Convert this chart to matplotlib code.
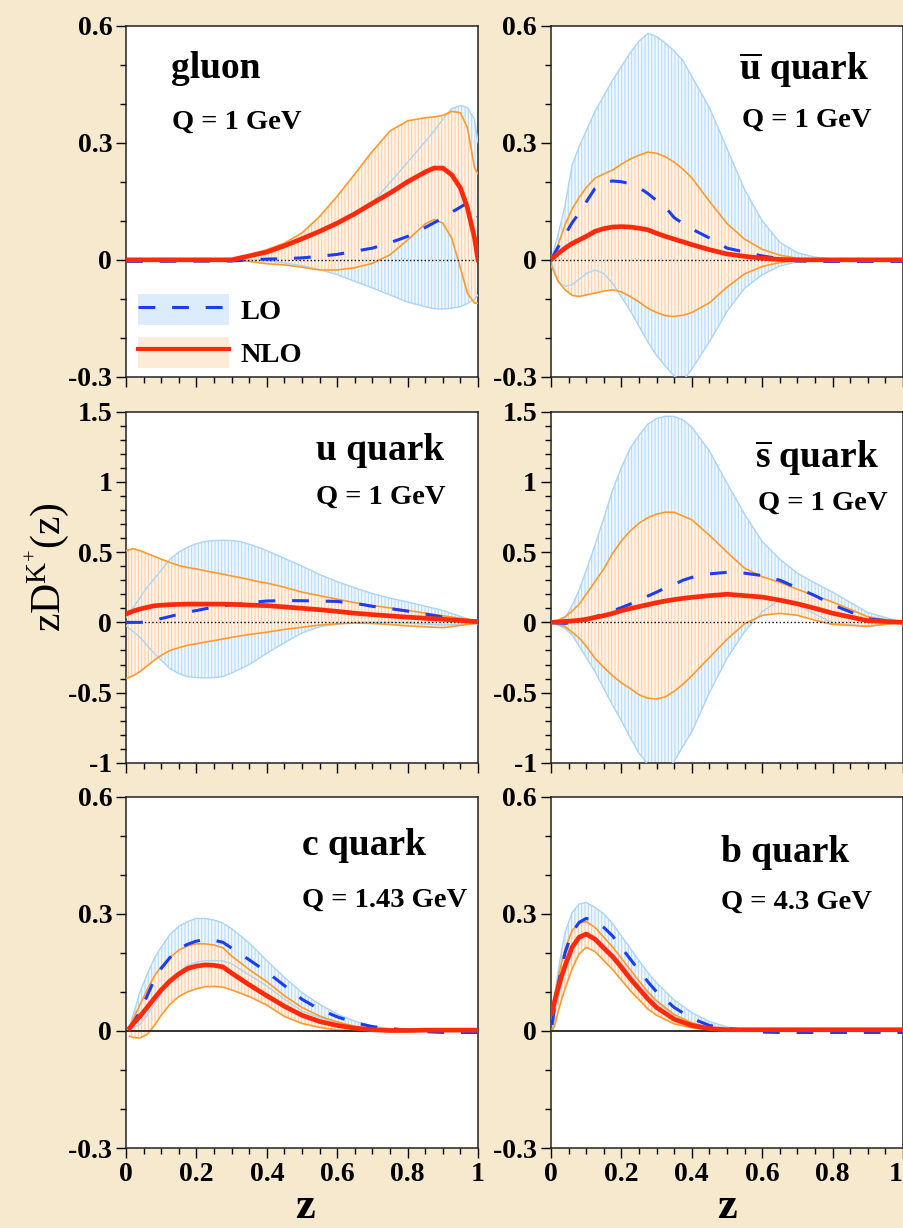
import numpy as np
import matplotlib
matplotlib.use('Agg')
import matplotlib.pyplot as plt
from matplotlib.patches import Patch
from matplotlib.lines import Line2D
from matplotlib.legend_handler import HandlerTuple

plt.rcParams['font.family'] = ['Liberation Serif', 'DejaVu Serif']
plt.rcParams['mathtext.fontset'] = 'custom'
plt.rcParams['mathtext.rm'] = 'Liberation Serif'
plt.rcParams['mathtext.bf'] = 'Liberation Serif:bold'
plt.rcParams['mathtext.it'] = 'Liberation Serif:italic'
plt.rcParams['hatch.linewidth'] = 0.8

# ---- gluon, Q = 1 GeV ----
zg = [0, 0.3, 0.35, 0.4, 0.45, 0.5, 0.55, 0.6, 0.65, 0.7, 0.75, 0.8, 0.85, 0.875, 0.9, 0.925, 0.95, 0.97, 0.99, 1.0]
g_nlo = [0, 0, 0.01, 0.02, 0.036, 0.054, 0.073, 0.094, 0.118, 0.145, 0.171, 0.2, 0.225, 0.235, 0.235, 0.218, 0.184, 0.133, 0.056, 0.0]
g_nlo_hi = [0, 0.002, 0.013, 0.026, 0.043, 0.069, 0.111, 0.163, 0.22, 0.278, 0.33, 0.356, 0.364, 0.366, 0.37, 0.38, 0.377, 0.338, 0.236, 0.22]
g_nlo_lo = [0, 0, -0.004, -0.01, -0.013, -0.019, -0.026, -0.026, -0.02, -0.009, 0.013, 0.051, 0.092, 0.103, 0.094, 0.056, -0.021, -0.086, -0.111, -0.111]
g_lo = [-0.004, -0.003, 0.0, 0.002, 0.003, 0.005, 0.009, 0.014, 0.022, 0.03, 0.044, 0.06, 0.083, 0.095, 0.107, 0.122, 0.135, 0.146, 0.13, 0.11]
g_lo_hi = [0, 0.001, 0.01, 0.02, 0.036, 0.054, 0.073, 0.094, 0.118, 0.146, 0.198, 0.25, 0.303, 0.33, 0.36, 0.387, 0.395, 0.39, 0.36, 0.3]
g_lo_lo = [0, 0, 0, -0.002, -0.008, -0.015, -0.025, -0.038, -0.055, -0.072, -0.09, -0.108, -0.12, -0.125, -0.126, -0.124, -0.12, -0.112, -0.1, -0.09]

# ---- light quarks, Q = 1 GeV ----
zq = [0, .02, .04, .06, .08, .1, .125, .15, .175, .2, .225, .25, .275, .3, .325, .35, .375, .4, .45, .5, .55, .6, .65, .7, .75, .8, .9, 1.0]

ub_nlo = [0, .016, .03, .042, .051, .06, .073, .08, .084, .085, .084, .081, .077, .068, .06, .053, .046, .039, .026, .015, .009, .004, .001, 0, 0, 0, 0, 0]
ub_nlo_hi = [0, .038, .09, .13, .16, .185, .209, .22, .23, .245, .258, .268, .276, .273, .264, .25, .232, .21, .15, .093, .053, .027, .012, .004, .001, 0, 0, 0]
ub_nlo_lo = [-.013, -.055, -.077, -.091, -.094, -.09, -.085, -.08, -.077, -.082, -.094, -.108, -.124, -.135, -.143, -.145, -.142, -.135, -.11, -.07, -.036, -.017, -.007, -.002, 0, 0, 0, 0]
ub_lo = [0, .032, .064, .095, .12, .148, .183, .198, .202, .2, .195, .185, .17, .152, .135, .108, .093, .079, .056, .03, .02, .01, .003, -.003, -.004, -.004, -.004, -.004]
ub_lo_hi = [0, .064, .14, .243, .29, .33, .38, .42, .46, .495, .53, .56, .58, .572, .555, .535, .51, .47, .39, .285, .18, .1, .045, .018, .007, .002, 0, 0]
ub_lo_lo = [0, -.055, -.068, -.064, -.05, -.035, -.026, -.035, -.06, -.095, -.13, -.17, -.21, -.245, -.272, -.298, -.31, -.28, -.21, -.132, -.073, -.038, -.016, -.005, -.001, 0, 0, 0]

u_nlo = [.06, .08, .095, .107, .118, .122, .126, .128, .13, .13, .13, .13, .13, .128, .126, .123, .121, .119, .11, .1, .09, .078, .065, .055, .046, .037, .022, .005]
u_nlo_hi = [.51, .525, .51, .49, .47, .45, .426, .405, .39, .38, .367, .355, .343, .33, .318, .305, .29, .28, .25, .215, .19, .165, .14, .12, .103, .085, .047, .01]
u_nlo_lo = [-.4, -.38, -.35, -.31, -.27, -.235, -.2, -.18, -.163, -.152, -.14, -.13, -.118, -.107, -.096, -.087, -.078, -.07, -.05, -.035, -.019, -.01, -.005, -.008, -.015, -.025, -.038, -.005]
u_lo = [0, 0, 0, .006, .016, .027, .042, .058, .073, .084, .097, .108, .117, .125, .131, .138, .146, .152, .155, .154, .152, .149, .136, .114, .098, .08, .038, 0]
u_lo_hi = [.035, .105, .177, .25, .31, .37, .45, .5, .535, .56, .576, .582, .584, .582, .575, .555, .535, .51, .455, .4, .34, .29, .245, .205, .172, .145, .085, 0]
u_lo_lo = [-.024, -.065, -.106, -.165, -.22, -.27, -.33, -.365, -.386, -.393, -.395, -.393, -.385, -.36, -.33, -.3, -.26, -.22, -.145, -.075, -.031, -.012, 0, 0, 0, -.005, -.018, -.01]

sb_nlo = [0, .003, .007, .01, .015, .022, .035, .048, .064, .083, .098, .112, .126, .14, .152, .162, .171, .178, .19, .2, .19, .18, .158, .132, .1, .065, .012, 0]
sb_nlo_hi = [0, .015, .04, .08, .13, .2, .29, .38, .49, .58, .65, .705, .745, .77, .784, .783, .757, .73, .62, .5, .385, .325, .285, .235, .19, .145, .04, 0]
sb_nlo_lo = [0, -.012, -.03, -.07, -.11, -.17, -.256, -.32, -.38, -.43, -.47, -.515, -.54, -.545, -.53, -.49, -.44, -.38, -.25, -.12, -.01, .05, .064, .05, .015, -.015, -.028, 0]
sb_lo = [0, -.004, -.007, -.003, .005, .015, .04, .06, .082, .105, .13, .158, .187, .215, .245, .27, .3, .32, .345, .356, .35, .333, .3, .245, .19, .125, .025, 0]
sb_lo_hi = [0, .008, .028, .12, .23, .37, .55, .74, .94, 1.1, 1.24, 1.33, 1.41, 1.45, 1.466, 1.465, 1.44, 1.39, 1.22, .99, .77, .575, .45, .35, .28, .215, .07, 0]
sb_lo_lo = [0, -.02, -.043, -.09, -.17, -.25, -.35, -.47, -.59, -.7, -.82, -.93, -1.01, -1.05, -1.04, -.99, -.88, -.78, -.5, -.256, -.066, .076, .16, .125, .06, -.005, -.028, 0]

# ---- c quark, Q = 1.43 GeV ----
zc = [.01, .02, .04, .06, .08, .1, .125, .15, .175, .2, .225, .25, .275, .3, .35, .4, .45, .5, .55, .6, .65, .7, .75, .8, .85, .9, 1.0]
c_nlo = [.007, .018, .038, .06, .083, .105, .128, .146, .16, .166, .169, .168, .164, .148, .118, .09, .063, .04, .024, .014, .007, .003, .001, .001, .002, .002, .002]
c_nlo_hi = [.013, .03, .068, .105, .14, .165, .188, .207, .218, .223, .223, .22, .213, .192, .157, .126, .09, .06, .038, .023, .012, .006, .002, 0, 0, 0, 0]
c_nlo_lo = [-.013, -.017, -.018, -.009, .013, .04, .068, .088, .1, .108, .113, .114, .112, .105, .088, .066, .037, .019, .009, .002, 0, 0, 0, 0, 0, 0, 0]
c_lo = [.005, .02, .05, .09, .13, .16, .188, .21, .222, .23, .234, .232, .227, .212, .182, .151, .116, .081, .055, .036, .021, .011, .006, .002, -.002, -.004, -.004]
c_lo_hi = [.009, .04, .1, .145, .185, .215, .247, .268, .28, .288, .288, .284, .276, .262, .225, .18, .137, .098, .068, .043, .025, .012, .006, .002, .001, 0, 0]
c_lo_lo = [.005, .008, .017, .04, .068, .095, .128, .15, .168, .176, .18, .18, .179, .172, .143, .115, .081, .051, .034, .02, .01, .004, .001, 0, 0, 0, 0]

# ---- b quark, Q = 4.3 GeV ----
zb = [.003, .01, .02, .03, .04, .06, .08, .1, .125, .15, .175, .2, .225, .25, .275, .3, .35, .4, .45, .5, .55, .6, .65, .7, .8, .9, 1.0]
b_nlo = [.045, .075, .108, .14, .167, .214, .24, .248, .235, .212, .19, .163, .134, .108, .082, .06, .03, .014, .006, .003, .003, .003, .003, .003, .003, .003, .003]
b_nlo_hi = [.05, .09, .133, .175, .21, .257, .276, .28, .265, .24, .215, .186, .157, .128, .1, .077, .042, .021, .008, .003, 0, 0, 0, 0, 0, 0, 0]
b_nlo_lo = [0, .012, .048, .08, .108, .159, .197, .214, .203, .18, .157, .13, .103, .08, .056, .04, .018, .008, .002, 0, 0, 0, 0, 0, 0, 0, 0]
b_lo = [.015, .06, .116, .16, .2, .252, .278, .288, .282, .265, .243, .214, .184, .155, .126, .1, .06, .032, .014, .006, .002, -.003, -.004, -.004, -.004, -.004, -.004]
b_lo_hi = [.03, .09, .15, .205, .252, .303, .325, .329, .316, .3, .275, .243, .212, .18, .15, .123, .079, .047, .024, .01, .004, .001, 0, 0, 0, 0, 0]
b_lo_lo = [0, .04, .082, .125, .167, .218, .244, .25, .24, .222, .199, .173, .147, .118, .093, .072, .04, .02, .007, .002, 0, 0, 0, 0, 0, 0, 0]

xticks = [0, 0.2, 0.4, 0.6, 0.8, 1]
xticklabels = ['0', '0.2', '0.4', '0.6', '0.8', '1']
yticks_small = [-0.3, 0, 0.3, 0.6]
yticklabels_small = ['-0.3', '0', '0.3', '0.6']
yticks_big = [-1, -0.5, 0, 0.5, 1, 1.5]
yticklabels_big = ['-1', '-0.5', '0', '0.5', '1', '1.5']

BG = '#f7e9cd'
LO_FACE = '#f1f8ff'
LO_HATCH = '#b5dafa'
LO_EDGE = '#aad4f8'
NLO_FACE = '#fff6ee'
NLO_HATCH = '#ffcda3'
NLO_EDGE = '#ff9b2e'
BLUE = '#1b3df5'
RED = '#ff2a0a'

fig = plt.figure(figsize=(9.04, 12.28), dpi=100, facecolor=BG)

left_x = [0.1394, 0.6095]
w = 0.3894
rows_y = [0.693, 0.3787, 0.0651]
h = 0.2862


def draw_panel(ax, z, lo, lo_lo, lo_hi, nlo, nlo_lo, nlo_hi, zero_ls):
    # LO band under the NLO band, both with vertical hatching
    ax.fill_between(z, lo_lo, lo_hi, facecolor=LO_FACE, edgecolor=LO_HATCH,
                    hatch='|||||', linewidth=0, zorder=1)
    ax.fill_between(z, nlo_lo, nlo_hi, facecolor=NLO_FACE, edgecolor=NLO_HATCH,
                    hatch='|||||', linewidth=0, zorder=2)
    ax.plot(z, lo_hi, color=LO_EDGE, lw=1.0, zorder=3)
    ax.plot(z, lo_lo, color=LO_EDGE, lw=1.0, zorder=3)
    ax.plot(z, nlo_hi, color=NLO_EDGE, lw=1.2, zorder=4)
    ax.plot(z, nlo_lo, color=NLO_EDGE, lw=1.2, zorder=4)
    if zero_ls == ':':
        ax.axhline(0, color='k', lw=1.0, ls=':', zorder=4.5)
    else:
        ax.axhline(0, color='#222222', lw=1.3, zorder=4.5)
    ax.plot(z, lo, color=BLUE, lw=2.2, dashes=(5.5, 5.5), zorder=6)
    ax.plot(z, nlo, color=RED, lw=3.4, zorder=7)


def style_axes(ax, big, bottom):
    ax.set_facecolor('white')
    ax.set_xlim(0, 1)
    ax.set_xticks(xticks)
    ax.set_xticks(np.arange(0, 1.001, 0.05), minor=True)
    if big:
        ax.set_ylim(-1, 1.5)
        ax.set_yticks(yticks_big)
        ax.set_yticklabels(yticklabels_big)
        ax.set_yticks(np.arange(-1, 1.501, 0.1), minor=True)
    else:
        ax.set_ylim(-0.3, 0.6)
        ax.set_yticks(yticks_small)
        ax.set_yticklabels(yticklabels_small)
        ax.set_yticks(np.arange(-0.3, 0.601, 0.1), minor=True)
    if bottom:
        ax.set_xticklabels(xticklabels)
    else:
        ax.tick_params(axis='x', labelbottom=False)
    ax.tick_params(which='major', direction='out', length=7.5, width=1.0, pad=2.5,
                   labelsize=20, top=False, right=False)
    ax.tick_params(which='minor', direction='out', length=4.5, width=1.0,
                   top=False, right=False)
    for lab in ax.get_xticklabels() + ax.get_yticklabels():
        lab.set_fontweight('bold')
    for sp in ax.spines.values():
        sp.set_linewidth(1.1)
        sp.set_color('#222222')


panels = [
    (0, 0, zg, g_lo, g_lo_lo, g_lo_hi, g_nlo, g_nlo_lo, g_nlo_hi, False, ':'),
    (0, 1, zq, ub_lo, ub_lo_lo, ub_lo_hi, ub_nlo, ub_nlo_lo, ub_nlo_hi, False, ':'),
    (1, 0, zq, u_lo, u_lo_lo, u_lo_hi, u_nlo, u_nlo_lo, u_nlo_hi, True, ':'),
    (1, 1, zq, sb_lo, sb_lo_lo, sb_lo_hi, sb_nlo, sb_nlo_lo, sb_nlo_hi, True, ':'),
    (2, 0, zc, c_lo, c_lo_lo, c_lo_hi, c_nlo, c_nlo_lo, c_nlo_hi, False, '-'),
    (2, 1, zb, b_lo, b_lo_lo, b_lo_hi, b_nlo, b_nlo_lo, b_nlo_hi, False, '-'),
]

axes = {}
for (r, c, z, lo, lo_lo, lo_hi, nlo, nlo_lo, nlo_hi, big, zls) in panels:
    ax = fig.add_axes([left_x[c], rows_y[r], w, h])
    draw_panel(ax, z, lo, lo_lo, lo_hi, nlo, nlo_lo, nlo_hi, zls)
    style_axes(ax, big, r == 2)
    axes[(r, c)] = ax

# the last "1" sits on the figure edge; keep it inside
axes[(2, 1)].get_xticklabels()[-1].set_horizontalalignment('right')

# panel labels
title_kw = dict(fontsize=27, fontweight='bold')
q_kw = dict(fontsize=20.5, fontweight='bold')

ax = axes[(0, 0)]
ax.text(0.128, 0.878, 'gluon', transform=ax.transAxes, ha='left', va='center', **title_kw)
ax.text(0.130, 0.724, 'Q = 1 GeV', transform=ax.transAxes, ha='left', va='center', **q_kw)

ax = axes[(0, 1)]
ax.text(0.905, 0.872, r'$\overline{\mathbf{u}}$ quark', transform=ax.transAxes, ha='right', va='center', **title_kw)
ax.text(0.91, 0.73, 'Q = 1 GeV', transform=ax.transAxes, ha='right', va='center', **q_kw)

ax = axes[(1, 0)]
ax.text(0.903, 0.89, 'u quark', transform=ax.transAxes, ha='right', va='center', **title_kw)
ax.text(0.907, 0.755, 'Q = 1 GeV', transform=ax.transAxes, ha='right', va='center', **q_kw)

ax = axes[(1, 1)]
ax.text(0.93, 0.868, r'$\overline{\mathbf{s}}$ quark', transform=ax.transAxes, ha='right', va='center', **title_kw)
ax.text(0.955, 0.74, 'Q = 1 GeV', transform=ax.transAxes, ha='right', va='center', **q_kw)

ax = axes[(2, 0)]
ax.text(0.50, 0.86, 'c quark', transform=ax.transAxes, ha='left', va='center', **title_kw)
ax.text(0.50, 0.705, 'Q = 1.43 GeV', transform=ax.transAxes, ha='left', va='center', **q_kw)

ax = axes[(2, 1)]
ax.text(0.483, 0.84, 'b quark', transform=ax.transAxes, ha='left', va='center', **title_kw)
ax.text(0.483, 0.70, 'Q = 4.3 GeV', transform=ax.transAxes, ha='left', va='center', **q_kw)

# legend in the gluon panel: shaded box + line for each
h_lo = (Patch(facecolor='#dcecfc', edgecolor='none'),
        Line2D([], [], color=BLUE, lw=2.2, dashes=(5.5, 5.5)))
h_nlo = (Patch(facecolor='#fdebd8', edgecolor='none'),
         Line2D([], [], color=RED, lw=3.0))
axes[(0, 0)].legend([h_lo, h_nlo], ['LO', 'NLO'], loc='lower left',
                    bbox_to_anchor=(0.034, 0.026), frameon=False,
                    handler_map={tuple: HandlerTuple(ndivide=1)},
                    prop={'size': 20.5, 'weight': 'bold'},
                    handlelength=3.2, handleheight=1.3, labelspacing=0.4,
                    handletextpad=0.4, borderpad=0, borderaxespad=0)

fig.text(0.053, 0.538, r'$\mathrm{zD^{K^{+}}(z)}$', rotation=90, fontsize=30,
         ha='center', va='center')
fig.text(0.3374, 0.001, 'z', fontsize=32, fontweight='bold', ha='center', va='bottom')
fig.text(0.804, 0.001, 'z', fontsize=32, fontweight='bold', ha='center', va='bottom')

fig.savefig('out.png', dpi=100, facecolor=BG)
